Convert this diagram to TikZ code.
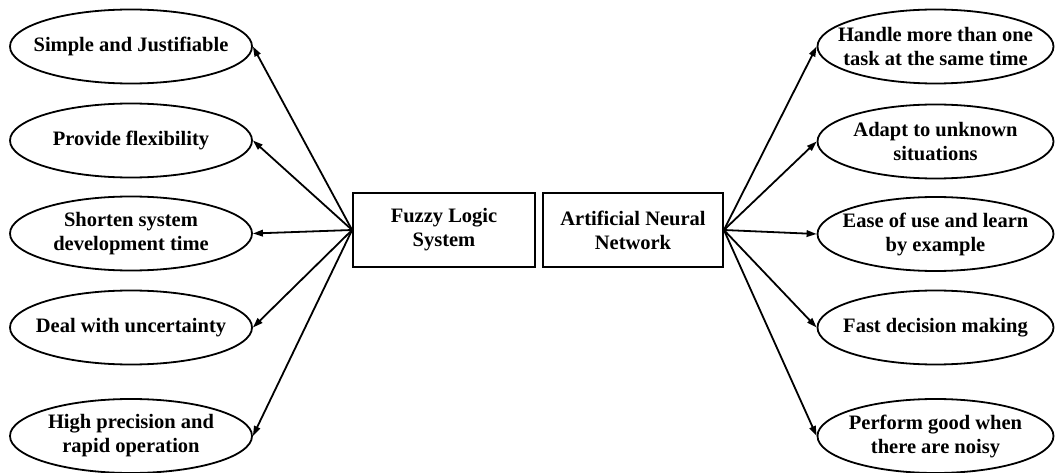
\documentclass[tikz,border=0pt]{standalone}
\usepackage{fontspec}
\setmainfont{Liberation Serif}
\usetikzlibrary{shapes.geometric,arrows.meta}

\begin{document}
\begin{tikzpicture}[x=1pt,y=-1pt,
  every node/.style={font=\bfseries\fontsize{20.5}{24}\selectfont, align=center, inner sep=0pt},
  trait/.style={ellipse, draw, line width=1.8pt, minimum height=74pt},
  lefttrait/.style={trait, minimum width=242pt},
  righttrait/.style={trait, minimum width=236pt},
  sysbox/.style={rectangle, draw, line width=1.8pt, minimum height=74pt},
  link/.style={line width=1.8pt, -{Triangle[length=10pt,width=6.5pt]}}
]
\useasboundingbox (0,0) rectangle (1055,473);

% central systems
\node[sysbox, minimum width=182pt] (fls) at (444,230) {Fuzzy Logic\\System};
\node[sysbox, minimum width=180pt] (ann) at (633,230) {Artificial Neural\\Network};

% fuzzy logic advantages (fixed-size ellipses, text set as a centred label)
\node[lefttrait, label={[name=lt1]center:Simple and Justifiable}] (l1) at (131,46.5) {};
\node[lefttrait, label={[name=lt2]center:Provide flexibility}] (l2) at (131,140.5) {};
\node[lefttrait, label={[name=lt3]center:{Shorten system\\development time}}] (l3) at (131,233.5) {};
\node[lefttrait, label={[name=lt4]center:Deal with uncertainty}] (l4) at (131,327.5) {};
\node[lefttrait, label={[name=lt5]center:{High precision and\\rapid operation}}] (l5) at (131,436) {};

% neural network advantages
\node[righttrait, label={[name=rt1]center:{Handle more than one\\task at the same time}}] (r1) at (935.5,46.5) {};
\node[righttrait, label={[name=rt2]center:{Adapt to unknown\\situations}}] (r2) at (935.5,141.5) {};
\node[righttrait, label={[name=rt3]center:{Ease of use and learn\\by example}}] (r3) at (935.5,234) {};
\node[righttrait, label={[name=rt4]center:Fast decision making}] (r4) at (935.5,327.5) {};
\node[righttrait, label={[name=rt5]center:{Perform good when\\there are noisy}}] (r5) at (935.5,436) {};

% connectors
\foreach \n in {1,...,5} {
  \draw[link] (fls.west) -- (l\n.east);
  \draw[link] (ann.east) -- (r\n.west);
}
\end{tikzpicture}
\end{document}
